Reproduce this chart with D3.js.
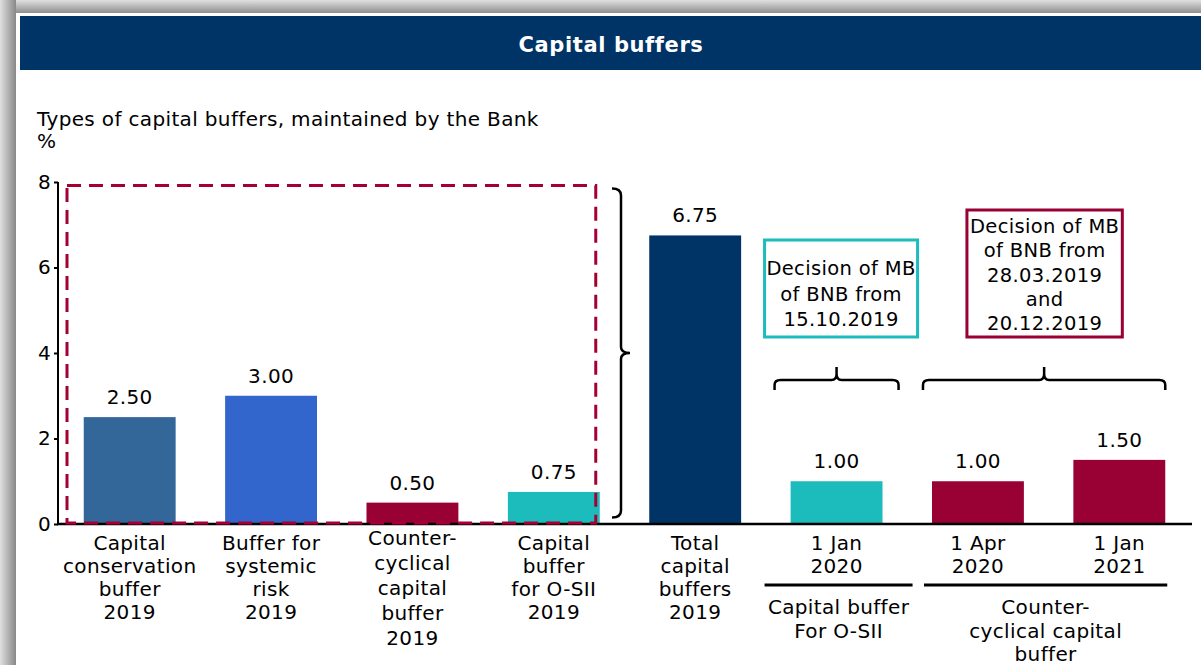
<!DOCTYPE html>
<html>
<head>
<meta charset="utf-8">
<script src="https://cdn.jsdelivr.net/npm/d3@7"></script>
<style>
  html, body { margin: 0; padding: 0; background: #fff; }
  svg { display: block; }
  text { font-family: "DejaVu Sans", Verdana, sans-serif; fill: #000; letter-spacing: 0.35px; }
</style>
</head>
<body>
<svg id="chart" width="1201" height="665"></svg>
<script>
// ---------- data ----------
const title = "Capital buffers";
const subtitle = "Types of capital buffers, maintained by the Bank";
const unitLabel = "%";
const categories = [
  "Capital conservation buffer 2019",
  "Buffer for systemic risk 2019",
  "Counter-cyclical capital buffer 2019",
  "Capital buffer for O-SII 2019",
  "Total capital buffers 2019",
  "1 Jan 2020",
  "1 Apr 2020",
  "1 Jan 2021"
];
const categoryLines = [
  ["Capital", "conservation", "buffer", "2019"],
  ["Buffer for", "systemic", "risk", "2019"],
  ["Counter-", "cyclical", "capital", "buffer", "2019"],
  ["Capital", "buffer", "for O-SII", "2019"],
  ["Total", "capital", "buffers", "2019"],
  ["1 Jan", "2020"],
  ["1 Apr", "2020"],
  ["1 Jan", "2021"]
];
const values = [2.50, 3.00, 0.50, 0.75, 6.75, 1.00, 1.00, 1.50];
const valueLabels = ["2.50", "3.00", "0.50", "0.75", "6.75", "1.00", "1.00", "1.50"];
const bufferType = ["conservation", "systemic", "countercyclical", "osii", "total", "osii", "countercyclical", "countercyclical"];
const yTicks = [0, 2, 4, 6, 8];
const groupLabels = [["Capital buffer", "For O-SII"], ["Counter-", "cyclical capital", "buffer"]];
const groupMembers = [[5], [6, 7]];
const decisionNotes = [
  ["Decision of MB", "of BNB from", "15.10.2019"],
  ["Decision of MB", "of BNB from", "28.03.2019", "and", "20.12.2019"]
];

// ---------- style ----------
const colors = {
  conservation: "#336699",
  systemic: "#3366CC",
  countercyclical: "#990033",
  osii: "#1CBCBC",
  total: "#003366"
};
const noteColors = ["#1CBCBC", "#990033"];
const FONT = 20;

const svg = d3.select("#chart");
const W = 1201, H = 665;

// frame shadow
const defs = svg.append("defs");
const gl = defs.append("linearGradient").attr("id", "shL").attr("x1", 0).attr("x2", 1).attr("y1", 0).attr("y2", 0);
gl.append("stop").attr("offset", 0).attr("stop-color", "#e0e0e0");
gl.append("stop").attr("offset", 1).attr("stop-color", "#888");
const gt = defs.append("linearGradient").attr("id", "shT").attr("x1", 0).attr("x2", 0).attr("y1", 0).attr("y2", 1);
gt.append("stop").attr("offset", 0).attr("stop-color", "#e0e0e0");
gt.append("stop").attr("offset", 1).attr("stop-color", "#888");
svg.append("rect").attr("x", 0).attr("y", 0).attr("width", W).attr("height", 14).attr("fill", "url(#shT)");
svg.append("rect").attr("x", 0).attr("y", 0).attr("width", 16).attr("height", H).attr("fill", "url(#shL)");
svg.append("rect").attr("x", 16).attr("y", 13).attr("width", W - 16).attr("height", H - 13).attr("fill", "#fff");

// title bar
svg.append("rect").attr("x", 20).attr("y", 16).attr("width", W - 20).attr("height", 54).attr("fill", "#003366");
svg.append("text").attr("x", 611).attr("y", 52).attr("text-anchor", "middle")
  .style("font-weight", "bold").style("font-size", "21px").style("letter-spacing", "0.6px")
  .style("fill", "#fff").text(title);

svg.append("text").attr("x", 37).attr("y", 126).style("font-size", FONT + "px").text(subtitle);
svg.append("text").attr("x", 37).attr("y", 148).style("font-size", FONT + "px").text(unitLabel);

// scales
const x = d3.scaleBand().domain(categories).range([59, 1190]).paddingInner(0.35).paddingOuter(0.175);
const y = d3.scaleLinear().domain([0, 8]).range([524, 182]);
const bw = x.bandwidth();
const cx = i => x(categories[i]) + bw / 2;

// bars
svg.append("g").selectAll("rect").data(values).join("rect")
  .attr("x", (d, i) => x(categories[i]))
  .attr("y", d => y(d))
  .attr("width", bw)
  .attr("height", d => y(0) - y(d))
  .attr("fill", (d, i) => colors[bufferType[i]]);

// value labels
svg.append("g").selectAll("text").data(values).join("text")
  .attr("x", (d, i) => cx(i))
  .attr("y", d => y(d) - 13)
  .attr("text-anchor", "middle")
  .style("font-size", FONT + "px")
  .text((d, i) => valueLabels[i]);

// y axis
const yAxis = d3.axisLeft(y).tickValues(yTicks).tickSize(4).tickPadding(3).tickFormat(d3.format("d"));
const gy = svg.append("g").attr("transform", "translate(58,0)").call(yAxis);
gy.select(".domain").attr("stroke", "#000").attr("stroke-width", 2).attr("d", `M0,${y(8)}V${y(0)}`);
gy.selectAll(".tick line").attr("stroke", "#000").attr("stroke-width", 2);
gy.selectAll(".tick text").style("font-size", FONT + "px").style("font-family", "'DejaVu Sans', Verdana, sans-serif").attr("fill", "#000");

// x axis baseline
svg.append("line").attr("x1", 57).attr("x2", 1192).attr("y1", y(0)).attr("y2", y(0))
  .attr("stroke", "#000").attr("stroke-width", 2.5);

// dashed rectangle around components
svg.append("rect")
  .attr("x", 67).attr("y", y(7.92))
  .attr("width", x(categories[3]) + bw - 4 - 67)
  .attr("height", y(0) - 1 - y(7.92))
  .attr("fill", "none").attr("stroke", "#A50034").attr("stroke-width", 3)
  .attr("stroke-dasharray", "14,8");

// vertical brace
{
  const bx = 621, top = y(7.85), bot = y(0.15), mid = (top + bot) / 2;
  const p = `M${bx - 9},${top} Q${bx},${top} ${bx},${top + 7} V${mid - 6} Q${bx},${mid} ${bx + 9},${mid}` +
            ` M${bx + 9},${mid} Q${bx},${mid} ${bx},${mid + 6} V${bot - 7} Q${bx},${bot} ${bx - 9},${bot}`;
  svg.append("path").attr("d", p).attr("fill", "none").attr("stroke", "#000").attr("stroke-width", 2.5);
}

// horizontal braces over forward-looking bars
function hBrace(x1, x2, yb) {
  const xm = (x1 + x2) / 2, top = yb - 13;
  const p = `M${x1},${yb + 10} V${yb + 5} Q${x1},${yb} ${x1 + 6},${yb} H${xm - 5} Q${xm},${yb} ${xm},${yb - 6} V${top}` +
            ` M${xm},${yb - 6} Q${xm},${yb} ${xm + 5},${yb} H${x2 - 6} Q${x2},${yb} ${x2},${yb + 5} V${yb + 10}`;
  svg.append("path").attr("d", p).attr("fill", "none").attr("stroke", "#000").attr("stroke-width", 2.5);
}
hBrace(cx(5) - 62, cx(5) + 62, 380);
hBrace(x(categories[6]) - 9, x(categories[7]) + bw, 380);

// decision notes
const noteBoxes = [
  { x1: cx(5) - 72, x2: cx(5) + 81, y1: 240, y2: 337, first: 275, lh: 25.5 },
  { x1: cx(6) - 11, x2: cx(7) + 3, y1: 210, y2: 337, first: 233, lh: 24.3 }
];
noteBoxes.forEach((b, k) => {
  svg.append("rect").attr("x", b.x1).attr("y", b.y1).attr("width", b.x2 - b.x1).attr("height", b.y2 - b.y1)
    .attr("fill", "#fff").attr("stroke", noteColors[k]).attr("stroke-width", 3);
  const t = svg.append("text").attr("text-anchor", "middle").style("font-size", "19.5px");
  decisionNotes[k].forEach((ln, j) => {
    t.append("tspan").attr("x", (b.x1 + b.x2) / 2).attr("y", b.first + j * b.lh).text(ln);
  });
});

// category labels
categoryLines.forEach((lines, i) => {
  const first = i === 2 ? 545 : 550;
  const lh = i === 2 ? 25 : 23;
  const t = svg.append("text").attr("text-anchor", "middle").style("font-size", FONT + "px");
  lines.forEach((ln, j) => {
    t.append("tspan").attr("x", cx(i)).attr("y", first + j * lh).text(ln);
  });
});

// group separators and labels
const groupLines = [[cx(5) - 72, cx(5) + 76], [x(categories[6]) - 8, x(categories[7]) + bw + 2]];
groupMembers.forEach((m, g) => {
  const [a, b] = groupLines[g];
  svg.append("line").attr("x1", a).attr("x2", b).attr("y1", 585).attr("y2", 585)
    .attr("stroke", "#000").attr("stroke-width", 3);
  const t = svg.append("text").attr("text-anchor", "middle").style("font-size", FONT + "px");
  groupLabels[g].forEach((ln, j) => {
    t.append("tspan").attr("x", (a + b) / 2).attr("y", 614 + j * 23.5).text(ln);
  });
});
</script>
</body>
</html>
